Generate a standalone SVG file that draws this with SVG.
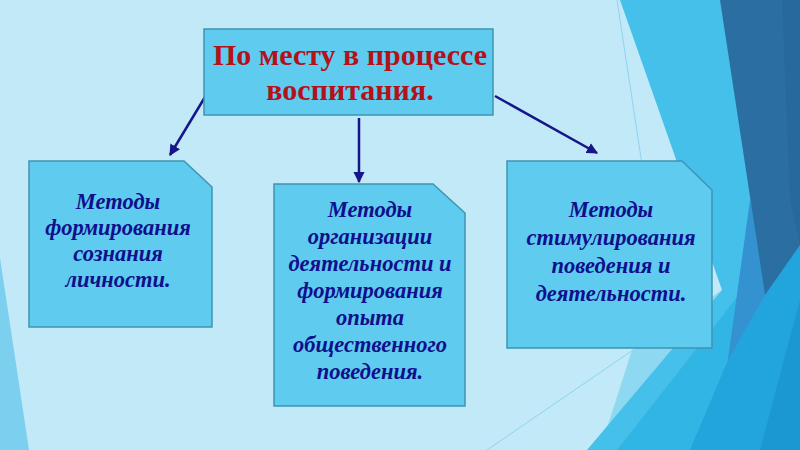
<svg xmlns="http://www.w3.org/2000/svg" width="800" height="450" viewBox="0 0 800 450">
<defs>
<style>
.box{fill:#5ecbef;stroke:#3f94b3;stroke-width:1.5}
.title{font-family:"Liberation Serif",serif;font-weight:bold;font-size:30px;fill:#b3121a;text-anchor:middle}
.lbl{font-family:"Liberation Serif",serif;font-weight:bold;font-style:italic;font-size:22.5px;fill:#10108c;text-anchor:middle}
.con{stroke:#16168a;stroke-width:2.5;fill:none;marker-end:url(#ah)}
</style>
<marker id="ah" viewBox="0 0 10 10" refX="9" refY="5" markerWidth="4.5" markerHeight="4.5" orient="auto" markerUnits="strokeWidth">
<path d="M0,0 L10,5 L0,10 Z" fill="#16168a"/>
</marker>
</defs>
<g id="background">
<rect x="0" y="0" width="800" height="450" fill="#c1e9f7"/>
<polygon points="0,258 29,450 0,450" fill="#7ccfef"/>
<polygon points="722,290 632,350 600,450 800,450 800,290" fill="#8fd8f2"/>
<polygon points="620,0 800,0 800,450 587,450 722,290" fill="#45c0ea"/>
<polygon points="800,217 617,450 800,450" fill="#30b5e5"/>
<polygon points="779,0 800,0 800,450 690,450 728,360" fill="#22a4dc"/>
<polygon points="750,200 765,295 728,360" fill="#3592d0"/>
<polygon points="800,300 760,450 800,450" fill="#1b98cf"/>
<polygon points="720,0 800,0 800,245 765,295" fill="#2b6fa2"/>
<polygon points="782,0 800,0 800,245 790,200" fill="#27699c"/>
<line x1="617" y1="0" x2="655" y2="250" stroke="#8fd3ef" stroke-width="1"/>
<line x1="487" y1="450" x2="712" y2="296" stroke="#8fd3ef" stroke-width="1"/>
</g>
<g id="connectors">
<line class="con" x1="205" y1="97" x2="170" y2="155"/>
<line class="con" x1="359" y1="118" x2="359" y2="182"/>
<line class="con" x1="495" y1="96" x2="597" y2="153"/>
</g>
<g id="node-top">
<rect class="box" x="204" y="29" width="289" height="86"/>
<text class="title" x="350" y="65">По месту в процессе</text>
<text class="title" x="350" y="100">воспитания.</text>
</g>
<g id="node-left">
<polygon class="box" points="29,161 184,161 212,187 212,327 29,327"/>
<text class="lbl" x="118" y="209">Методы</text>
<text class="lbl" x="118" y="235">формирования</text>
<text class="lbl" x="118" y="261">сознания</text>
<text class="lbl" x="118" y="287">личности.</text>
</g>
<g id="node-middle">
<polygon class="box" points="274,184 433,184 465,213 465,406 274,406"/>
<text class="lbl" x="370" y="217">Методы</text>
<text class="lbl" x="370" y="244">организации</text>
<text class="lbl" x="370" y="271">деятельности и</text>
<text class="lbl" x="370" y="298">формирования</text>
<text class="lbl" x="370" y="325">опыта</text>
<text class="lbl" x="370" y="352">общественного</text>
<text class="lbl" x="370" y="379">поведения.</text>
</g>
<g id="node-right">
<polygon class="box" points="507,161 682,161 712,190 712,348 507,348"/>
<text class="lbl" x="611" y="217">Методы</text>
<text class="lbl" x="611" y="245">стимулирования</text>
<text class="lbl" x="611" y="273">поведения и</text>
<text class="lbl" x="611" y="301">деятельности.</text>
</g>
</svg>
